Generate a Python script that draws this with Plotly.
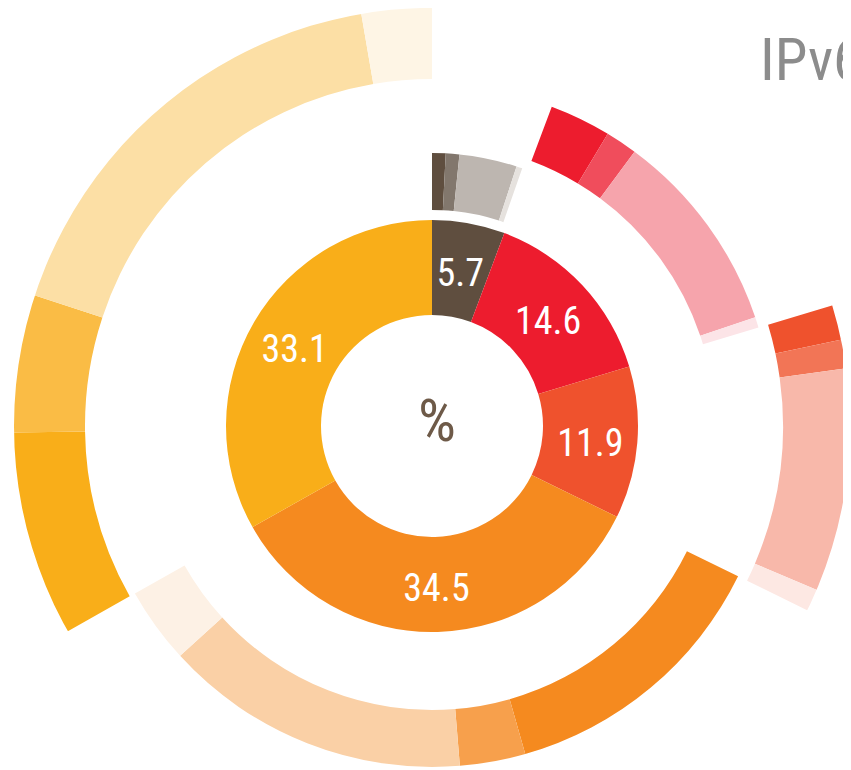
import math
import plotly.graph_objects as go

# ---- data ----
categories = ["A", "B", "C", "D", "E"]
inner_values = [5.7, 14.6, 11.9, 34.5, 33.1]
inner_labels = ["5.7", "14.6", "11.9", "34.5", "33.1"]

brown_sub = [0.8, 0.8, 3.4, 0.35]
red_sub = [2.9, 1.5, 9.7, 0.5]
orangered_sub = [1.35, 1.1, 8.6, 0.85]
orange_sub = [13.3, 3.1, 14.5, 3.6]
yellow_sub = [7.9, 5.3, 17.2, 2.7]

# ---- styles ----
inner_colors = ["#5f4e3f", "#ed1c2e", "#ef522d", "#f58a1f", "#f9ae19"]
sub_colors = [
    ["#5f4e3f", "#82776d", "#bdb6b0", "#e6e2de"],
    ["#ed1c2e", "#f04d5c", "#f6a4ac", "#fce4e7"],
    ["#ef522d", "#f27556", "#f8b8aa", "#fde8e3"],
    ["#f58a1f", "#f7a04c", "#fad0a6", "#fdf1e5"],
    ["#f9ae19", "#fabc45", "#fcdfa5", "#fef5e5"],
]
outer_radii = [(216, 273), (283, 341), (351, 423), (284, 341), (347, 421)]
INNER_R0, INNER_R1 = 111, 206
LABEL_R = 159
LABEL_DY = 7          # shift labels down a little (radial units == px)
FONT = "Roboto Condensed, DejaVu Sans Condensed, sans-serif"

subs = [brown_sub, red_sub, orangered_sub, orange_sub, yellow_sub]
total = sum(inner_values)
deg = 360.0 / total

fig = go.Figure()

starts = []
acc = 0.0
for v in inner_values:
    starts.append(acc)
    acc += v
theta_inner = [(s + v / 2) * deg for s, v in zip(starts, inner_values)]
width_inner = [v * deg for v in inner_values]
fig.add_trace(go.Barpolar(
    r=[INNER_R1 - INNER_R0] * len(inner_values),
    base=[INNER_R0] * len(inner_values),
    theta=theta_inner, width=width_inner,
    marker=dict(color=inner_colors, line=dict(width=0)),
    hoverinfo="skip",
))

for gi, sub in enumerate(subs):
    r0, r1 = outer_radii[gi]
    a = starts[gi]
    th, wd = [], []
    for v in sub:
        th.append((a + v / 2) * deg)
        wd.append(v * deg)
        a += v
    fig.add_trace(go.Barpolar(
        r=[r1 - r0] * len(sub), base=[r0] * len(sub),
        theta=th, width=wd,
        marker=dict(color=sub_colors[gi], line=dict(width=0)),
        hoverinfo="skip",
    ))

# label anchor points: mid-angle at LABEL_R, nudged downward by LABEL_DY
lab_r, lab_t = [], []
for t in theta_inner:
    x = LABEL_R * math.sin(math.radians(t))
    y = LABEL_R * math.cos(math.radians(t)) - LABEL_DY
    lab_r.append(math.hypot(x, y))
    lab_t.append(math.degrees(math.atan2(x, y)) % 360)

fig.add_trace(go.Scatterpolar(
    r=lab_r, theta=lab_t,
    mode="text", text=inner_labels,
    textfont=dict(family=FONT, size=38, color="white"),
    hoverinfo="skip",
))
fig.add_trace(go.Scatterpolar(
    r=[5], theta=[90], mode="text", text=["%"],
    textfont=dict(family=FONT, size=60, color="#6e5a48"),
    hoverinfo="skip",
))

W, H = 870, 836
fig.add_annotation(
    text="IPv6", xref="paper", yref="paper",
    x=750 / W, y=1 - 52 / H, xanchor="left", yanchor="middle",
    showarrow=False,
    font=dict(family=FONT, size=59, color="#8c8c8c"),
)

fig.update_layout(
    width=W, height=H, autosize=False,
    margin=dict(l=0, r=0, t=0, b=0),
    paper_bgcolor="white",
    showlegend=False,
    polar=dict(
        domain=dict(x=[6 / W, 842 / W], y=[0, 1]),
        bgcolor="white",
        hole=0,
        radialaxis=dict(range=[0, 418], visible=False),
        angularaxis=dict(visible=False, rotation=90, direction="clockwise"),
    ),
)

fig.write_html("out.html")
